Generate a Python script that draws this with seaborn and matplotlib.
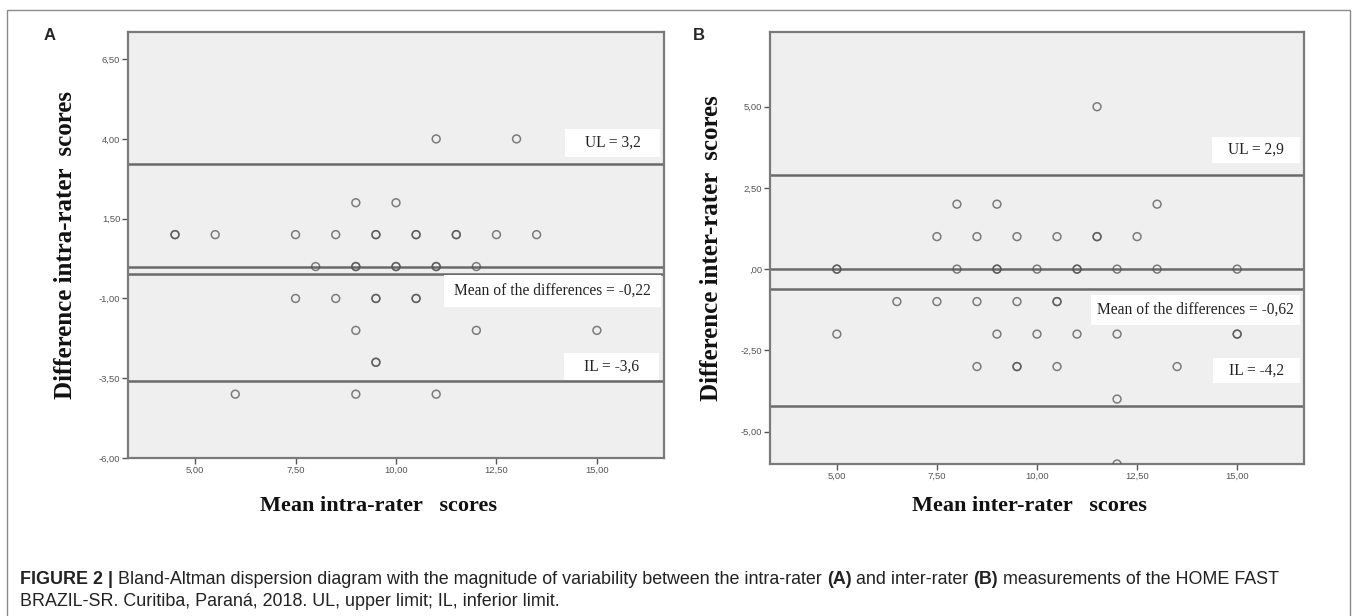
# Bland-Altman plots (intra-rater and inter-rater), SPSS style

import matplotlib
matplotlib.use('Agg')
import matplotlib.pyplot as plt
import seaborn as sns
import pandas as pd
from matplotlib.patches import Rectangle

# panel A: intra-rater (mean of the two scores, difference)
a_mean = [4.5, 4.5, 5.5, 7.5, 8.5, 9.5, 9.5, 10.5, 10.5, 11.5, 11.5, 12.5, 13.5,
          9.0, 10.0,
          11.0, 13.0,
          8.0, 9.0, 9.0, 10.0, 10.0, 11.0, 11.0, 12.0,
          7.5, 8.5, 9.5, 9.5, 10.5, 10.5,
          9.0, 12.0, 15.0,
          9.5, 9.5,
          6.0, 9.0, 11.0]
a_diff = [1, 1, 1, 1, 1, 1, 1, 1, 1, 1, 1, 1, 1,
          2, 2,
          4, 4,
          0, 0, 0, 0, 0, 0, 0, 0,
          -1, -1, -1, -1, -1, -1,
          -2, -2, -2,
          -3, -3,
          -4, -4, -4]

# panel B: inter-rater
b_mean = [11.5,
          8.0, 9.0, 13.0,
          7.5, 8.5, 9.5, 10.5, 11.5, 11.5, 12.5,
          5.0, 5.0, 8.0, 9.0, 9.0, 10.0, 11.0, 11.0, 12.0, 13.0, 15.0,
          6.5, 7.5, 8.5, 9.5, 10.5, 10.5,
          5.0, 9.0, 10.0, 11.0, 12.0, 15.0, 15.0,
          8.5, 9.5, 9.5, 10.5, 13.5,
          12.0,
          12.0]
b_diff = [5,
          2, 2, 2,
          1, 1, 1, 1, 1, 1, 1,
          0, 0, 0, 0, 0, 0, 0, 0, 0, 0, 0,
          -1, -1, -1, -1, -1, -1,
          -2, -2, -2, -2, -2, -2, -2,
          -3, -3, -3, -3, -3,
          -4,
          -6]

# reference lines: zero, upper limit, mean difference, inferior limit
a_lines = [0, 3.2, -0.22, -3.6]
b_lines = [0, 2.9, -0.62, -4.2]
a_labels = ['UL = 3,2', 'Mean of the differences = -0,22', 'IL = -3,6']
b_labels = ['UL = 2,9', 'Mean of the differences = -0,62', 'IL = -4,2']

a_yticks = [6.5, 4.0, 1.5, -1.0, -3.5, -6.0]
a_yticklabels = ['6,50', '4,00', '1,50', '-1,00', '-3,50', '-6,00']
b_yticks = [5.0, 2.5, 0.0, -2.5, -5.0]
b_yticklabels = ['5,00', '2,50', ',00', '-2,50', '-5,00']
xticks = [5, 7.5, 10, 12.5, 15]
xticklabels = ['5,00', '7,50', '10,00', '12,50', '15,00']

W, H = 1357, 616
sns.set_theme(style='white')
plt.rcParams['font.family'] = ['Liberation Sans', 'DejaVu Sans']

fig = plt.figure(figsize=(W / 100, H / 100), dpi=100)


def px_rect(x0, y0, x1, y1):
    # pixel box (top-left origin) -> figure fraction rect
    return [x0 / W, 1 - y1 / H, (x1 - x0) / W, (y1 - y0) / H]


def draw_panel(rect, mean, diff, lines, labels, boxes, yticks, yticklabels, ylim):
    ax = fig.add_axes(rect)
    ax.set_facecolor('#efefef')
    df = pd.DataFrame({'mean': mean, 'diff': diff})
    sns.scatterplot(data=df, x='mean', y='diff', ax=ax, marker='o', s=32,
                    facecolor='none', edgecolor='#555555', linewidth=1.1,
                    alpha=0.75, zorder=5)
    for v in lines:
        ax.axhline(v, color='#6a6a6a', linewidth=1.8, zorder=2)
    for (x0, y0, x1, y1), txt in zip(boxes, labels):
        ax.add_patch(Rectangle((x0 / W, 1 - y1 / H), (x1 - x0) / W, (y1 - y0) / H,
                               transform=fig.transFigure, facecolor='white',
                               edgecolor='none', zorder=3))
        fig.text((x0 + x1) / 2 / W, 1 - (y0 + y1) / 2 / H, txt, ha='center', va='center',
                 fontsize=11.2, family='Liberation Serif', color='#222222', zorder=6)
    ax.set_xlim(3.33, 16.67)
    ax.set_ylim(*ylim)
    ax.set_xticks(xticks)
    ax.set_xticklabels(xticklabels)
    ax.set_yticks(yticks)
    ax.set_yticklabels(yticklabels)
    ax.set_xlabel('')
    ax.set_ylabel('')
    ax.tick_params(axis='both', which='both', direction='out', length=4, width=1,
                   color='#555555', labelsize=6.8, labelcolor='#555555', pad=1.5,
                   left=True, bottom=True)
    for sp in ax.spines.values():
        sp.set_color('#7a7a7a')
        sp.set_linewidth(1.6)
    return ax


ax_a = draw_panel(px_rect(128, 32, 664, 458), a_mean, a_diff, a_lines, a_labels,
                  [(565, 129, 660, 157), (444, 275, 661, 307), (564, 353, 659, 380)],
                  a_yticks, a_yticklabels, (-6.0, 7.35))
ax_b = draw_panel(px_rect(770, 32, 1304, 464), b_mean, b_diff, b_lines, b_labels,
                  [(1212, 137, 1300, 163), (1091, 295, 1300, 325), (1213, 358, 1300, 383)],
                  b_yticks, b_yticklabels, (-6.0, 7.3))

# axis titles (serif bold, as exported from SPSS)
lab = dict(family='Liberation Serif', weight='bold', color='#111111',
           ha='center', va='center')
fig.text(66 / W, 1 - 245 / H, 'Difference intra-rater  scores', rotation=90,
         fontsize=18, **lab)
fig.text(712 / W, 1 - 248 / H, 'Difference inter-rater  scores', rotation=90,
         fontsize=18, **lab)
fig.text(378 / W, 1 - 506 / H, 'Mean intra-rater   scores', fontsize=16, **lab)
fig.text(1029 / W, 1 - 506 / H, 'Mean inter-rater   scores', fontsize=16, **lab)

# panel letters
fig.text(50 / W, 1 - 35 / H, 'A', fontsize=12, weight='bold', ha='center', va='center')
fig.text(699 / W, 1 - 35 / H, 'B', fontsize=12, weight='bold', ha='center', va='center')

# outer frame
fig.patches.append(Rectangle((7 / W, -0.05), 1343 / W, 1 - 10 / H + 0.05,
                             transform=fig.transFigure, fill=False,
                             edgecolor='#8a8a8a', linewidth=1))

# caption with bold pieces
renderer = fig.canvas.get_renderer()
line1 = [('FIGURE 2 |', 'bold'),
         (' Bland-Altman dispersion diagram with the magnitude of variability between the intra-rater ', 'normal'),
         ('(A)', 'bold'), (' and inter-rater ', 'normal'), ('(B)', 'bold'),
         (' measurements of the HOME FAST', 'normal')]
line2 = [('BRAZIL-SR. Curitiba, Paraná, 2018. UL, upper limit; IL, inferior limit.', 'normal')]
for y, pieces in [(580, line1), (601, line2)]:
    x = 20
    for txt, wt in pieces:
        t = fig.text(x / W, 1 - y / H, txt, fontsize=12.9, weight=wt, color='#222222',
                     ha='left', va='center')
        x += t.get_window_extent(renderer).width

fig.savefig('out.png', dpi=100)
